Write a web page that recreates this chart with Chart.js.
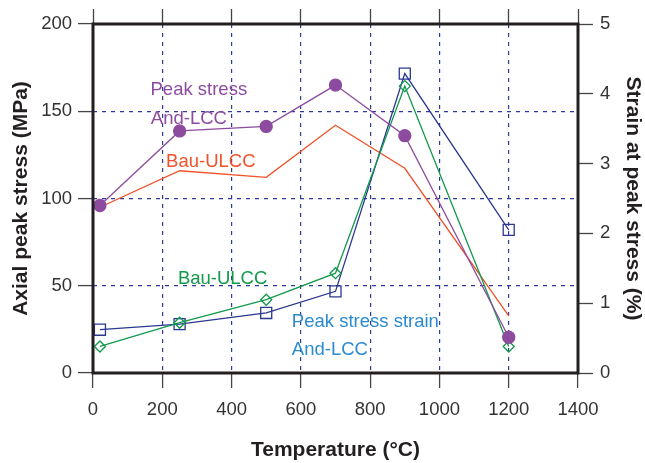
<!DOCTYPE html>
<html>
<head>
<meta charset="utf-8">
<script src="https://cdn.jsdelivr.net/npm/chart.js@4"></script>
<style>
	html, body { margin: 0; padding: 0; background: #fff; }
	#wrap { width: 645px; height: 463px; }
</style>
</head>
<body>
<div id="wrap"><canvas id="canvas0"></canvas></div>
<script>
// temperatures (°C)
const temps = [20, 250, 500, 700, 900, 1200];

// peak stress (MPa), left axis
const stressAndLCC = [96, 138.7, 141.3, 165, 136, 20.5];
const stressBauULCC = [95, 115.9, 112.1, 142, 117.3, 32.7];

// strain at peak stress (%), right axis
const strainAndLCC = [0.62, 0.70, 0.86, 1.17, 4.29, 2.05];
const strainBauULCC = [0.38, 0.72, 1.05, 1.43, 4.11, 0.38];

// text labels inside the plot: [text, x, y (left axis), colour]
const notes = [
	['Peak stress', 166, 159.5, '#8d4b9f'],
	['And-LCC', 167, 142.5, '#8d4b9f'],
	['Bau-ULCC', 211, 118, '#f0522a'],
	['Bau-ULCC', 245, 51, '#12994b'],
	['Peak stress strain', 574, 26.4, '#2b8bd0'],
	['And-LCC', 574, 10.3, '#2b8bd0']
];

const font = '"Liberation Sans", Arial, sans-serif';
const gridBlue = '#2e3a9c';

function pts(ys) {
	return temps.map((t, i) => ({ x: t, y: ys[i] }));
}

const framePlugin = {
	id: 'frame',
	afterDatasetsDraw(chart) {
		const ctx = chart.ctx;
		const a = chart.chartArea;
		const sx = chart.scales.x;
		const sy = chart.scales.y;

		ctx.save();
		ctx.font = '18.5px ' + font;
		ctx.textAlign = 'left';
		ctx.textBaseline = 'alphabetic';
		notes.forEach(n => {
			ctx.fillStyle = n[3];
			ctx.fillText(n[0], sx.getPixelForValue(n[1]), sy.getPixelForValue(n[2]));
		});

		ctx.strokeStyle = '#231f20';
		ctx.lineWidth = 3;
		ctx.strokeRect(a.left, a.top, a.right - a.left, a.bottom - a.top);
		ctx.restore();
	}
};

const edgeless = (c) => (c.tick.value === 0 || c.tick.value === 1400) ? 'rgba(0,0,0,0)' : gridBlue;
const plain = (v) => String(v);

const chartConfig = {
	type: 'line',
	data: {
		datasets: [{
			label: 'Peak stress And-LCC',
			data: pts(stressAndLCC),
			yAxisID: 'y',
			borderColor: '#8d4b9f',
			backgroundColor: '#8d4b9f',
			borderWidth: 1.3,
			pointStyle: 'circle',
			pointRadius: 6,
			order: 0
		}, {
			label: 'Strain Bau-ULCC',
			data: pts(strainBauULCC),
			yAxisID: 'y1',
			borderColor: '#12994b',
			backgroundColor: 'rgba(255,255,255,0)',
			borderWidth: 1.3,
			pointStyle: 'rectRot',
			pointRadius: 5.5,
			pointBorderWidth: 1.3,
			order: 1
		}, {
			label: 'Strain And-LCC',
			data: pts(strainAndLCC),
			yAxisID: 'y1',
			borderColor: '#2b3890',
			backgroundColor: 'rgba(255,255,255,0)',
			borderWidth: 1.3,
			pointStyle: 'rect',
			pointRadius: 7.8,
			pointBorderWidth: 1.3,
			order: 2
		}, {
			label: 'Peak stress Bau-ULCC',
			data: pts(stressBauULCC),
			yAxisID: 'y',
			borderColor: '#f0522a',
			borderWidth: 1.3,
			pointRadius: 0,
			order: 3
		}]
	},
	options: {
		responsive: true,
		maintainAspectRatio: false,
		animation: false,
		layout: { padding: 0 },
		plugins: {
			legend: { display: false },
			tooltip: { enabled: false }
		},
		scales: {
			x: {
				type: 'linear',
				position: 'bottom',
				min: 0,
				max: 1400,
				ticks: {
					stepSize: 200,
					callback: plain,
					color: '#333',
					padding: 11,
					font: { family: font, size: 18.5 }
				},
				grid: {
					color: edgeless,
					lineWidth: 1.2,
					tickColor: '#444',
					tickLength: 15,
					tickWidth: 1.3
				},
				border: { display: false, dash: [4, 5] },
				title: {
					display: true,
					text: 'Temperature (°C)',
					color: '#231f20',
					padding: 0,
					font: { family: font, size: 21, weight: 'bold' }
				},
				afterFit(s) { s.height = 90; }
			},
			x2: {
				type: 'linear',
				position: 'top',
				min: 0,
				max: 1400,
				ticks: { stepSize: 200, display: false },
				grid: {
					drawOnChartArea: false,
					tickColor: '#444',
					tickLength: 15,
					tickWidth: 1.3
				},
				border: { display: false },
				afterFit(s) { s.height = 24; }
			},
			y: {
				position: 'left',
				min: 0,
				max: 200,
				ticks: {
					stepSize: 50,
					callback: plain,
					color: '#333',
					padding: 6,
					font: { family: font, size: 18.5 }
				},
				grid: {
					color: (c) => (c.tick.value === 0 || c.tick.value === 200) ? 'rgba(0,0,0,0)' : gridBlue,
					lineWidth: 1.2,
					tickColor: '#444',
					tickLength: 15,
					tickWidth: 1.3
				},
				border: { display: false, dash: [4, 5] },
				title: {
					display: true,
					text: 'Axial peak stress (MPa)',
					color: '#231f20',
					padding: { top: 9, bottom: 0 },
					font: { family: font, size: 21, weight: 'bold' }
				},
				afterFit(s) { s.width = 93; }
			},
			y1: {
				position: 'right',
				min: 0,
				max: 5,
				ticks: {
					stepSize: 1,
					callback: plain,
					color: '#333',
					padding: 7,
					font: { family: font, size: 18.5 }
				},
				grid: {
					drawOnChartArea: false,
					tickColor: '#444',
					tickLength: 15,
					tickWidth: 1.3
				},
				border: { display: false },
				title: {
					display: true,
					text: 'Strain at peak stress (%)',
					color: '#231f20',
					padding: { top: 0, bottom: 0 },
					font: { family: font, size: 21, weight: 'bold' }
				},
				afterFit(s) { s.width = 67; }
			}
		}
	},
	plugins: [framePlugin]
};

new Chart(document.getElementById('canvas0').getContext('2d'), chartConfig);
</script>
</body>
</html>
